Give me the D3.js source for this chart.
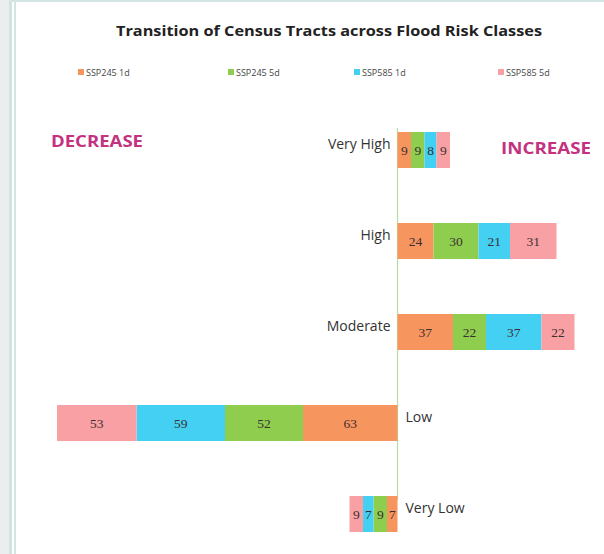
<!DOCTYPE html>
<html>
<head>
<meta charset="utf-8">
<script src="https://cdn.jsdelivr.net/npm/d3@7"></script>
<style>
  html, body { margin: 0; padding: 0; background: #fff; }
  svg { display: block; }
</style>
</head>
<body>
<svg id="chart" width="604" height="554"></svg>
<script>
// Flood risk classes, top to bottom
const categories = ["Very High", "High", "Moderate", "Low", "Very Low"];
// +1 = tracts moving into the class (increase), -1 = moving out (decrease)
const direction = [1, 1, 1, -1, -1];

const seriesNames = ["SSP245 1d", "SSP245 5d", "SSP585 1d", "SSP585 5d"];
const ssp245_1d = [9, 24, 37, 63, 7];
const ssp245_5d = [9, 30, 22, 52, 9];
const ssp585_1d = [8, 21, 37, 59, 7];
const ssp585_5d = [9, 31, 22, 53, 9];
const seriesValues = [ssp245_1d, ssp245_5d, ssp585_1d, ssp585_5d];

const colors = ["#f7955f", "#8fcd4f", "#43d0f3", "#f8a0a3"];

const svg = d3.select("#chart");

// frame of the panel
svg.append("rect").attr("x", 0).attr("y", 0).attr("width", 9).attr("height", 554).attr("fill", "#ebeeee");
svg.append("rect").attr("x", 9).attr("y", 0).attr("width", 3).attr("height", 554).attr("fill", "#cfe3e1");
svg.append("rect").attr("x", 14).attr("y", 0).attr("width", 2).attr("height", 554).attr("fill", "#d3e6e4");
svg.append("rect").attr("x", 9).attr("y", 0).attr("width", 595).attr("height", 2).attr("fill", "#d3e6e4");

// title
svg.append("text")
  .attr("x", 329).attr("y", 36)
  .attr("text-anchor", "middle")
  .attr("font-family", "Open Sans, sans-serif")
  .attr("font-weight", 700)
  .attr("font-size", 15)
  .attr("textLength", 426)
  .attr("lengthAdjust", "spacingAndGlyphs")
  .attr("fill", "#222")
  .text("Transition of Census Tracts across Flood Risk Classes");

// legend
const legendX = [78, 228, 354, 498];
const legend = svg.append("g");
seriesNames.forEach((name, i) => {
  legend.append("rect")
    .attr("x", legendX[i]).attr("y", 69).attr("width", 6).attr("height", 6)
    .attr("fill", colors[i]);
  legend.append("text")
    .attr("x", legendX[i] + 8).attr("y", 75.5)
    .attr("font-family", "Open Sans, sans-serif")
    .attr("font-size", 9)
    .attr("fill", "#444")
    .text(name);
});

// build signed rows for stacking
const rows = categories.map((c, i) => {
  const r = { category: c, dir: direction[i] };
  seriesNames.forEach((s, j) => { r[s] = seriesValues[j][i] * direction[i]; });
  return r;
});

const stack = d3.stack().keys(seriesNames).offset(d3.stackOffsetDiverging);
const layers = stack(rows);

const x = d3.scaleLinear().domain([-227, 118]).range([57, 574.5]);
const y = d3.scalePoint().domain(categories).range([150, 514]);
const barH = 36;

// zero line
svg.append("line")
  .attr("x1", x(0)).attr("x2", x(0))
  .attr("y1", 128).attr("y2", 500)
  .attr("stroke", "#b9dca0").attr("stroke-width", 1.2);

const g = svg.append("g");
layers.forEach((layer, li) => {
  const sel = g.selectAll(null).data(layer).enter();
  sel.append("rect")
    .attr("x", d => x(Math.min(d[0], d[1])))
    .attr("y", d => y(d.data.category) - barH / 2)
    .attr("width", d => Math.abs(x(d[1]) - x(d[0])))
    .attr("height", barH)
    .attr("fill", colors[li]);
  sel.append("text")
    .attr("x", d => (x(d[0]) + x(d[1])) / 2)
    .attr("y", d => y(d.data.category) + 5)
    .attr("text-anchor", "middle")
    .attr("font-family", "Liberation Serif, serif")
    .attr("font-size", 13.5)
    .attr("fill", "#3b3030")
    .text(d => Math.abs(d.data[layer.key]));
});

// category labels on the opposite side of the bars
svg.append("g").selectAll("text")
  .data(rows).enter().append("text")
  .attr("x", d => d.dir > 0 ? x(0) - 7 : x(0) + 8)
  .attr("y", d => y(d.category) - 1)
  .attr("text-anchor", d => d.dir > 0 ? "end" : "start")
  .attr("font-family", "Open Sans, sans-serif")
  .attr("font-size", 14)
  .attr("fill", "#333")
  .text(d => d.category);

// direction headers
svg.append("text")
  .attr("x", 51).attr("y", 147)
  .attr("font-family", "Open Sans, sans-serif")
  .attr("font-weight", 700)
  .attr("font-size", 16)
  .attr("textLength", 92)
  .attr("lengthAdjust", "spacingAndGlyphs")
  .attr("fill", "#c4327f")
  .text("DECREASE");
svg.append("text")
  .attr("x", 501).attr("y", 154)
  .attr("font-family", "Open Sans, sans-serif")
  .attr("font-weight", 700)
  .attr("font-size", 16)
  .attr("textLength", 90)
  .attr("lengthAdjust", "spacingAndGlyphs")
  .attr("fill", "#c4327f")
  .text("INCREASE");
</script>
</body>
</html>
